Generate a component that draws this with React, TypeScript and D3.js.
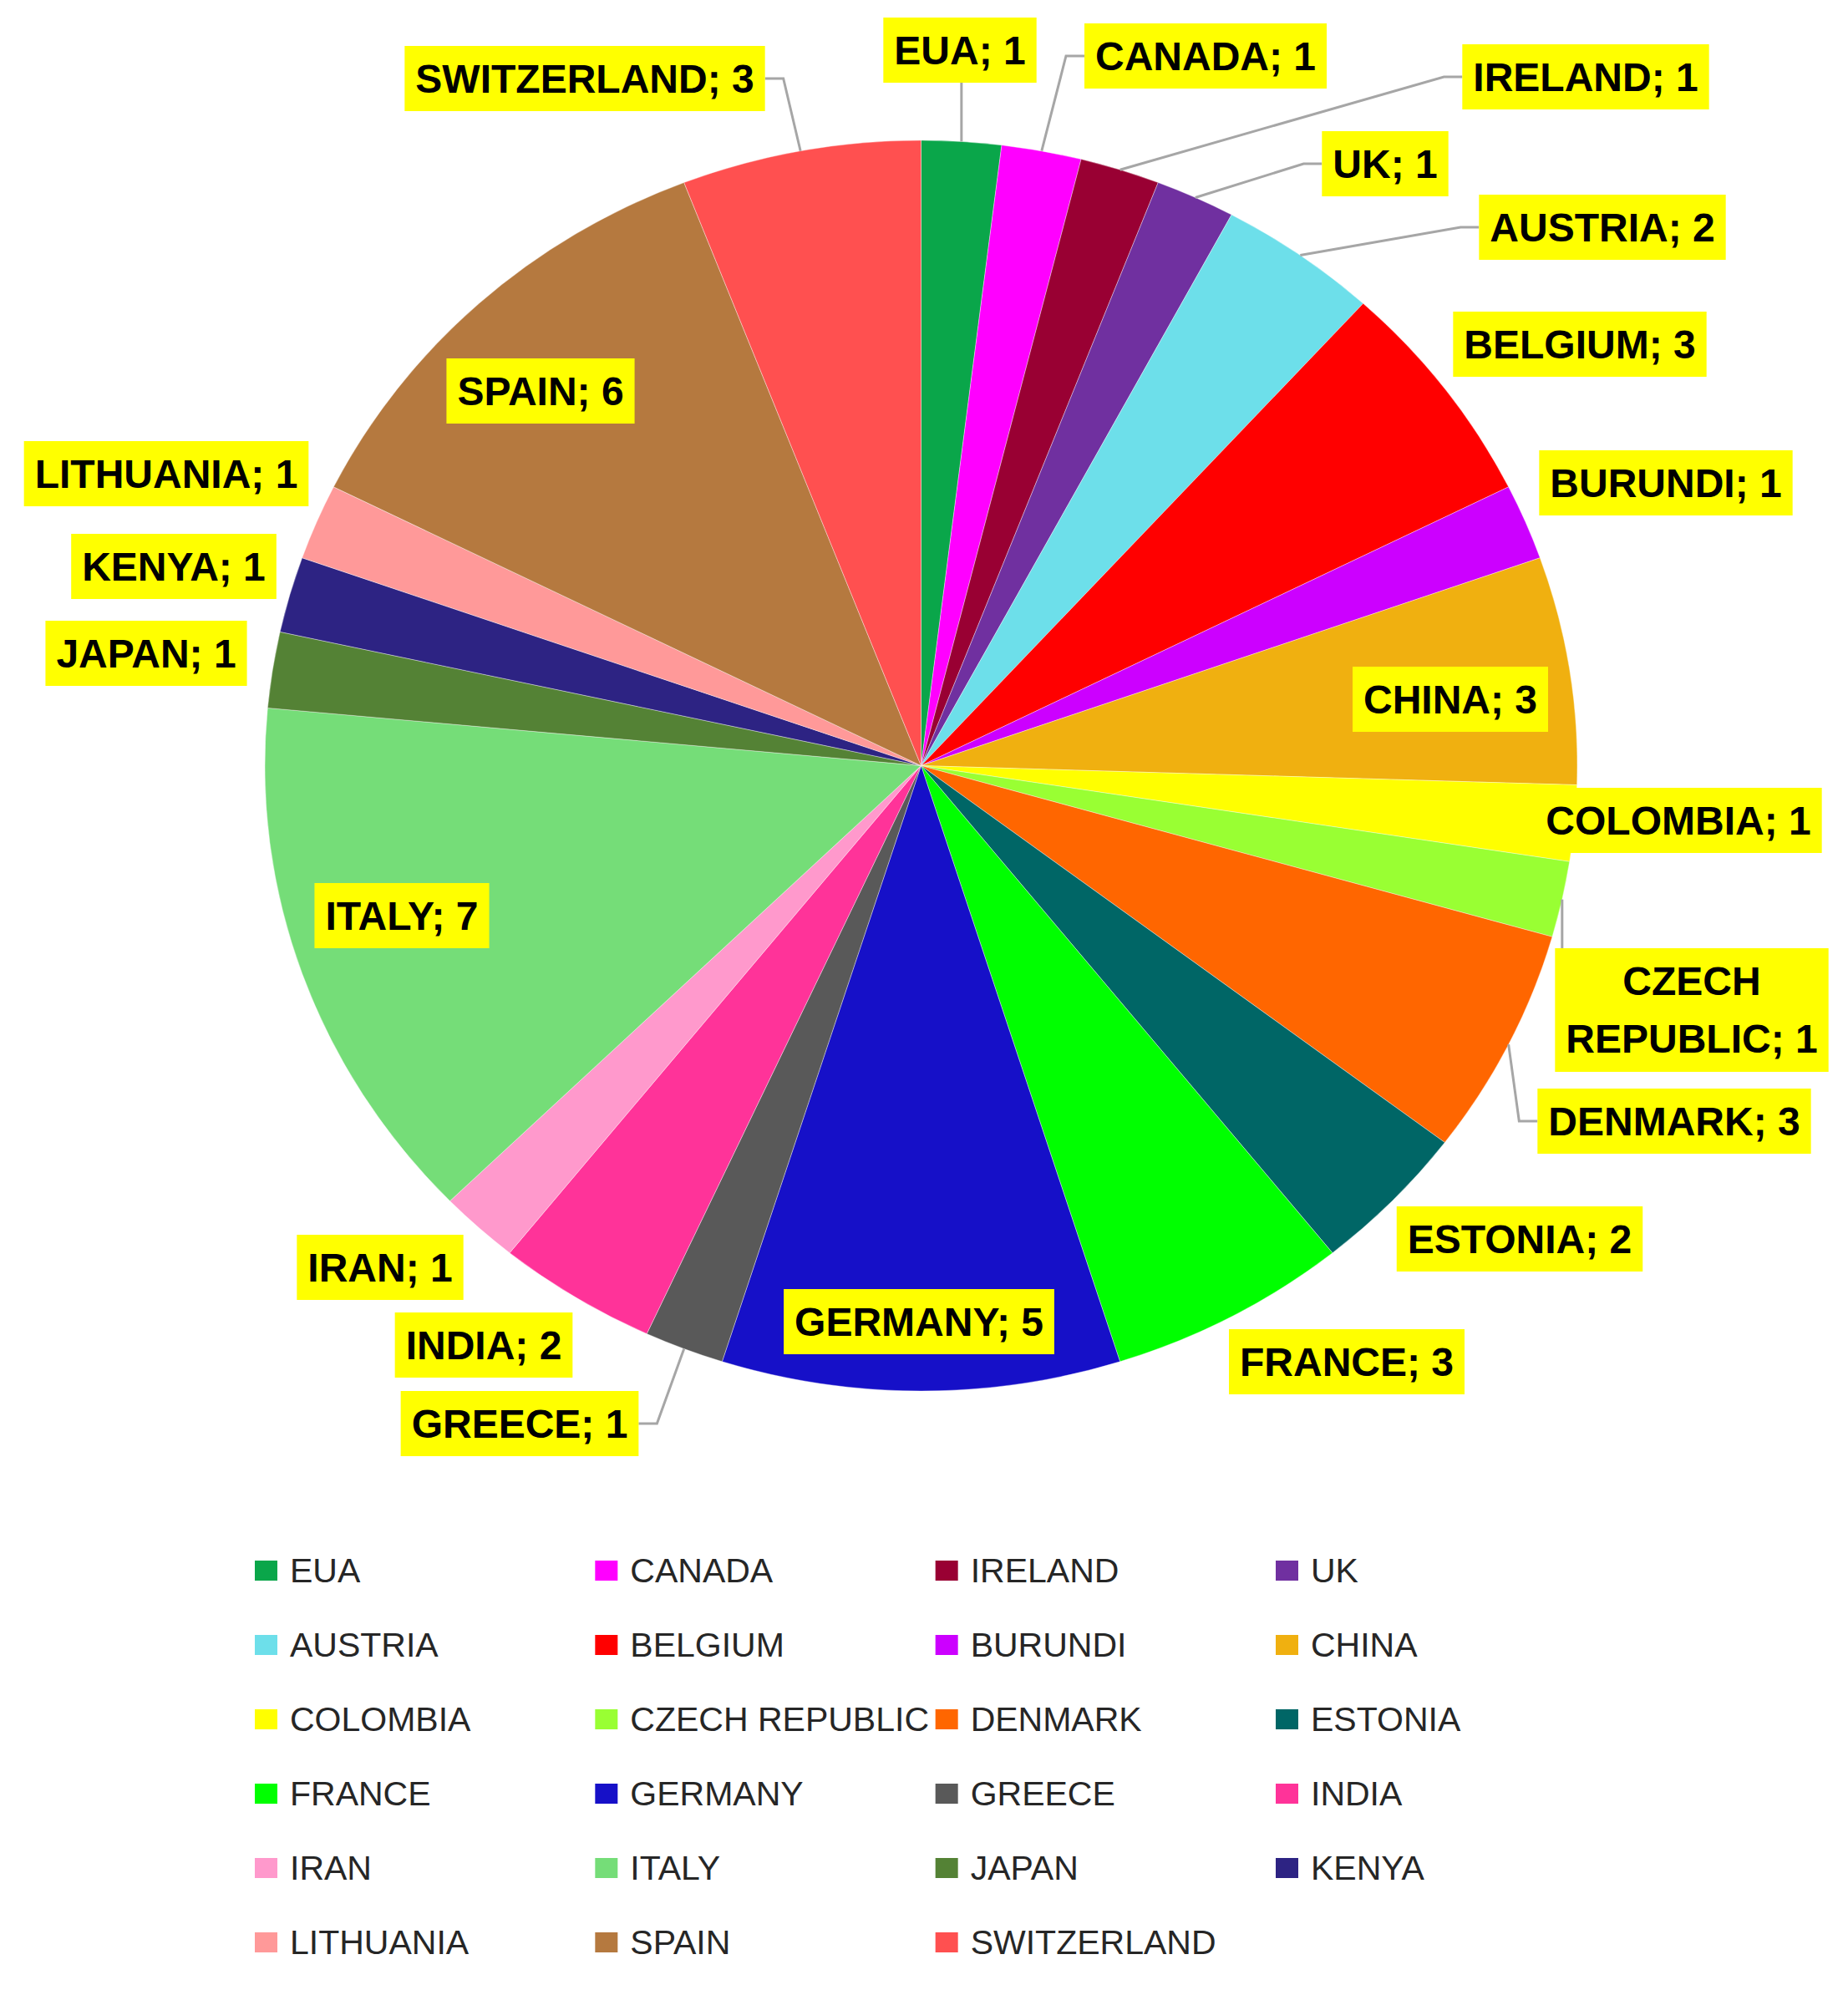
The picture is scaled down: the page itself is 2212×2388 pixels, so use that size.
import { useEffect, useRef } from 'react';
import * as d3 from 'd3';

const countries = ['EUA', 'CANADA', 'IRELAND', 'UK', 'AUSTRIA', 'BELGIUM', 'BURUNDI', 'CHINA', 'COLOMBIA', 'CZECH REPUBLIC', 'DENMARK', 'ESTONIA', 'FRANCE', 'GERMANY', 'GREECE', 'INDIA', 'IRAN', 'ITALY', 'JAPAN', 'KENYA', 'LITHUANIA', 'SPAIN', 'SWITZERLAND'];
const counts = [1, 1, 1, 1, 2, 3, 1, 3, 1, 1, 3, 2, 3, 5, 1, 2, 1, 7, 1, 1, 1, 6, 3];
const colors = ['#0aa64a', '#ff00ff', '#990033', '#7030a0', '#6ddfea', '#ff0000', '#cc00ff', '#f0b010', '#ffff00', '#99ff33', '#ff6600', '#006666', '#00ff00', '#1610c8', '#595959', '#ff3399', '#ff99cc', '#75dd78', '#548235', '#2d2383', '#ff9999', '#b5793f', '#ff5050'];

// where Excel put each data label (box centre) and which side the leader joins
const labelLayout: { x: number; y: number; attach?: string; wrap?: boolean }[] = [
    { x: 1149, y: 60, attach: 'bottom' },
    { x: 1443, y: 67, attach: 'left' },
    { x: 1898, y: 92, attach: 'left' },
    { x: 1658, y: 196, attach: 'left' },
    { x: 1918, y: 272, attach: 'left' },
    { x: 1891, y: 412 },
    { x: 1994, y: 578 },
    { x: 1736, y: 837 },
    { x: 2009, y: 982 },
    { x: 2025, y: 1209, attach: 'top', wrap: true },
    { x: 2004, y: 1342, attach: 'left' },
    { x: 1819, y: 1483 },
    { x: 1612, y: 1630 },
    { x: 1100, y: 1582 },
    { x: 622, y: 1704, attach: 'right' },
    { x: 579, y: 1610 },
    { x: 455, y: 1517 },
    { x: 481, y: 1096 },
    { x: 175, y: 782 },
    { x: 208, y: 678 },
    { x: 199, y: 567 },
    { x: 647, y: 468 },
    { x: 700, y: 94, attach: 'right' },
];

const W = 2212;
const H = 2388;

const App = () => {
    const ref = useRef<SVGSVGElement>(null);

    useEffect(() => {
        const svg = d3.select(ref.current);
        svg.selectAll('*').remove();

        const data = countries.map((name, i) => ({ name, value: counts[i], color: colors[i], layout: labelLayout[i] }));

        const cx = 1102.5, cy = 916.5;
        const rx = 785.5, ry = 748.5; // the source picture is stretched a bit wide

        const pie = d3.pie<any>().sort(null).value(d => d.value);
        const arcs = pie(data);
        const arc = d3.arc<any>().innerRadius(0).outerRadius(ry);

        const g = svg.append('g').attr('transform', `translate(${cx},${cy}) scale(${rx / ry},1)`);
        g.selectAll('path')
            .data(arcs)
            .enter().append('path')
            .attr('d', arc)
            .attr('fill', d => d.data.color)
            .attr('stroke', '#ffffff')
            .attr('stroke-width', 0.6)
            .attr('stroke-opacity', 0.6);

        const font = '"Liberation Sans", Arial, sans-serif';
        const boxH = 78;
        const labels = svg.append('g');

        arcs.forEach(a => {
            const d = a.data;
            const lay = d.layout;
            const mid = (a.startAngle + a.endAngle) / 2;
            const px = cx + rx * Math.sin(mid);
            const py = cy - ry * Math.cos(mid);

            const lines = lay.wrap ? [d.name.split(' ')[0], `${d.name.split(' ').slice(1).join(' ')}; ${d.value}`] : [`${d.name}; ${d.value}`];
            const lineGap = 69;

            const grp = labels.append('g');
            const rect = grp.append('rect').attr('fill', '#ffff00');
            const txt = grp.append('text')
                .attr('font-family', font)
                .attr('font-weight', 'bold')
                .attr('font-size', 48)
                .attr('fill', '#000000')
                .attr('text-anchor', 'middle');
            lines.forEach((ln, k) => {
                txt.append('tspan')
                    .attr('x', lay.x)
                    .attr('y', lay.y + (k - (lines.length - 1) / 2) * lineGap)
                    .attr('dominant-baseline', 'central')
                    .text(ln);
            });
            const bb = (txt.node() as SVGTextElement).getBBox();
            const bw = bb.width + 26;
            const bh = lines.length > 1 ? 148 : boxH;
            const x0 = lay.x - bw / 2, y0 = lay.y - bh / 2;
            rect.attr('x', x0).attr('y', y0).attr('width', bw).attr('height', bh);

            if (lay.attach) {
                let pts: [number, number][] = [];
                if (lay.attach === 'left') pts = [[px, py], [x0 - 22, lay.y], [x0, lay.y]];
                if (lay.attach === 'right') pts = [[px, py], [x0 + bw + 22, lay.y], [x0 + bw, lay.y]];
                if (lay.attach === 'bottom') pts = [[px, py], [px, y0 + bh]];
                if (lay.attach === 'top') pts = [[px, py], [px, y0]];
                labels.insert('path', ':first-child')
                    .attr('d', d3.line()(pts))
                    .attr('fill', 'none')
                    .attr('stroke', '#a6a6a6')
                    .attr('stroke-width', 3);
            }
        });

        // Legend, 4 columns
        const colX = d3.scalePoint<number>().domain([0, 1, 2, 3]).range([305, 1527]);
        const rowY = d3.scalePoint<number>().domain(d3.range(6)).range([1880, 2325]);
        const legend = svg.append('g');
        data.forEach((d, i) => {
            const x = colX(i % 4) as number;
            const y = rowY(Math.floor(i / 4)) as number;
            legend.append('rect')
                .attr('x', x).attr('y', y - 12)
                .attr('width', 27).attr('height', 24)
                .attr('fill', d.color);
            legend.append('text')
                .attr('x', x + 42).attr('y', y)
                .attr('dominant-baseline', 'central')
                .attr('font-family', font)
                .attr('font-size', 41)
                .attr('fill', '#262626')
                .text(d.name);
        });
    }, []);

    return (
        <div>
            <style>{`body { margin: 0; }`}</style>
            <svg ref={ref} width={W} height={H} style={{ display: 'block', background: '#ffffff' }}></svg>
        </div>
    );
};

export default App;
